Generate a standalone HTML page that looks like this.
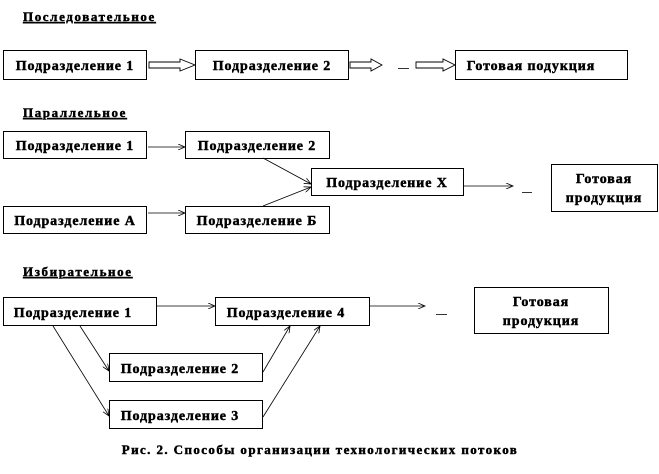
<!DOCTYPE html>
<html><head><meta charset="utf-8"><style>
html,body{margin:0;padding:0;background:#fff;}
svg{display:block;}
text{font-family:"Liberation Serif",serif;font-weight:bold;fill:#000;stroke:#000;stroke-width:0.45;}
.b{font-size:14px;letter-spacing:0.9px;}
.h{font-size:13px;letter-spacing:1.6px;text-decoration:underline;}
.c{font-size:13px;letter-spacing:1.4px;}
rect{fill:#fff;stroke:#000;stroke-width:1;}
line{stroke:#000;stroke-width:0.8;}
.ha{fill:#fff;stroke:#000;stroke-width:0.9;}
</style></head><body>
<svg width="659" height="474" viewBox="0 0 659 474" xmlns="http://www.w3.org/2000/svg">
<defs>
<marker id="a" markerWidth="8" markerHeight="6" refX="7" refY="3" orient="auto" markerUnits="userSpaceOnUse">
<path d="M0,0 L7,3 L0,6" fill="none" stroke="#000" stroke-width="0.8"/>
</marker>
</defs>
<!-- Sequential -->
<text class="h" x="23" y="21">Последовательное</text>
<rect x="3.5" y="50.5" width="143" height="29"/>
<text class="b" x="75" y="70" text-anchor="middle">Подразделение 1</text>
<rect x="195.5" y="50.5" width="153" height="29"/>
<text class="b" x="272" y="70" text-anchor="middle">Подразделение 2</text>
<rect x="455.5" y="50.5" width="172" height="29"/>
<text class="b" x="531" y="70" text-anchor="middle">Готовая подукция</text>
<polygon class="ha" points="149,62 180,62 180,59 195,65 180,71 180,68 149,68"/>
<polygon class="ha" points="350,62 371,62 371,59 382,65 371,71 371,68 350,68"/>
<line x1="398" y1="68.5" x2="409" y2="68.5"/>
<polygon class="ha" points="416,62 443,62 443,59 455,65 443,71 443,68 416,68"/>
<!-- Parallel -->
<text class="h" x="23" y="117">Параллельное</text>
<rect x="3.5" y="131.5" width="143" height="27"/>
<text class="b" x="75" y="150" text-anchor="middle">Подразделение 1</text>
<rect x="185.5" y="131.5" width="144" height="27"/>
<text class="b" x="257" y="150" text-anchor="middle">Подразделение 2</text>
<rect x="311.5" y="168.5" width="152" height="27"/>
<text class="b" x="387" y="187" text-anchor="middle">Подразделение Х</text>
<rect x="551.5" y="164.5" width="106" height="47"/>
<text class="b" x="604" y="183" text-anchor="middle">Готовая</text>
<text class="b" x="604" y="202" text-anchor="middle">продукция</text>
<rect x="3.5" y="206.5" width="143" height="27"/>
<text class="b" x="75" y="225" text-anchor="middle">Подразделение А</text>
<rect x="185.5" y="206.5" width="144" height="27"/>
<text class="b" x="257" y="225" text-anchor="middle">Подразделение Б</text>
<line x1="148" y1="147" x2="185" y2="147" marker-end="url(#a)"/>
<line x1="148" y1="213" x2="185" y2="213" marker-end="url(#a)"/>
<line x1="263" y1="158" x2="311" y2="184" marker-end="url(#a)"/>
<line x1="263" y1="206" x2="311" y2="187" marker-end="url(#a)"/>
<line x1="464" y1="186" x2="513" y2="186" marker-end="url(#a)"/>
<line x1="522" y1="192.5" x2="532" y2="192.5"/>
<!-- Selective -->
<text class="h" x="23" y="276">Избирательное</text>
<rect x="3.5" y="297.5" width="153" height="28"/>
<text class="b" x="73" y="317" text-anchor="middle">Подразделение 1</text>
<rect x="215.5" y="297.5" width="154" height="28"/>
<text class="b" x="286" y="317" text-anchor="middle">Подразделение 4</text>
<rect x="474.5" y="287.5" width="134" height="46"/>
<text class="b" x="541" y="306" text-anchor="middle">Готовая</text>
<text class="b" x="541" y="325" text-anchor="middle">продукция</text>
<rect x="109.5" y="353.5" width="153" height="28"/>
<text class="b" x="180" y="373" text-anchor="middle">Подразделение 2</text>
<rect x="109.5" y="400.5" width="153" height="28"/>
<text class="b" x="180" y="420" text-anchor="middle">Подразделение 3</text>
<line x1="157" y1="306" x2="215" y2="306" marker-end="url(#a)"/>
<line x1="370" y1="306" x2="425" y2="306" marker-end="url(#a)"/>
<line x1="436" y1="314.5" x2="447" y2="314.5"/>
<line x1="53" y1="326" x2="109" y2="416" marker-end="url(#a)"/>
<line x1="80" y1="326" x2="109" y2="371" marker-end="url(#a)"/>
<line x1="263" y1="372" x2="290" y2="326" marker-end="url(#a)"/>
<line x1="263" y1="417" x2="320" y2="326" marker-end="url(#a)"/>
<text class="c" x="320" y="454" text-anchor="middle">Рис. 2. Способы организации  технологических потоков</text>
</svg>
</body></html>
